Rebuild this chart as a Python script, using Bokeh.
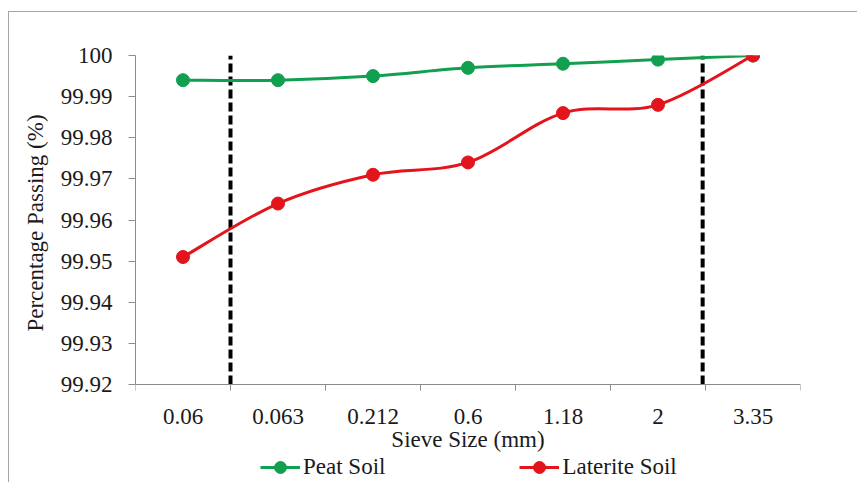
from bokeh.plotting import figure
from bokeh.models import FixedTicker, Range1d, Legend, LegendItem, InlineStyleSheet
from bokeh.embed import file_html
from bokeh.resources import INLINE

# ---- data ----
sieve_sizes = ["0.06", "0.063", "0.212", "0.6", "1.18", "2", "3.35"]
peat_soil = [99.994, 99.994, 99.995, 99.997, 99.998, 99.999, 100.0]
laterite_soil = [99.951, 99.964, 99.971, 99.974, 99.986, 99.988, 100.0]
y_ticks = [99.92, 99.93, 99.94, 99.95, 99.96, 99.97, 99.98, 99.99, 100.0]
y_tick_labels = ["99.92", "99.93", "99.94", "99.95", "99.96", "99.97", "99.98", "99.99", "100"]
dashed_marks = [0.5, 5.47]   # category-index positions of the dashed boundary lines

FONT = "Liberation Serif"
FS = "23px"
GREEN = "#11A04F"
RED = "#E3141B"
AXIS_GRAY = "#8C8C8C"

xs = list(range(len(sieve_sizes)))

# layout: plot area 55..384 px tall, 98 px of space below it for axis texts and legend
PLOT_H = 329
BELOW_H = 98
y_lo, y_hi = y_ticks[0], y_ticks[-1]
y_start = y_lo - (y_hi - y_lo) * BELOW_H / PLOT_H


def smooth(ys):
    n = len(ys)
    d = dict(x0=[], y0=[], x1=[], y1=[], cx0=[], cy0=[], cx1=[], cy1=[])
    for i in range(n - 1):
        pm = max(i - 1, 0)
        pp = min(i + 2, n - 1)
        d["x0"].append(xs[i]); d["y0"].append(ys[i])
        d["x1"].append(xs[i + 1]); d["y1"].append(ys[i + 1])
        d["cx0"].append(xs[i] + (xs[i + 1] - xs[pm]) / 6.0)
        d["cy0"].append(ys[i] + (ys[i + 1] - ys[pm]) / 6.0)
        d["cx1"].append(xs[i + 1] - (xs[pp] - xs[i]) / 6.0)
        d["cy1"].append(ys[i + 1] - (ys[pp] - ys[i]) / 6.0)
    return d


border_css = InlineStyleSheet(css="""
:host::after {
  content: "";
  position: absolute;
  left: 8px; top: 11px; right: 0px; bottom: 0px;
  border-left: 1px solid #A6A6A6;
  border-top: 1px solid #A6A6A6;
  pointer-events: none;
}
""")

p = figure(width=857, height=482, output_backend="svg", toolbar_location=None,
           x_range=Range1d(-0.5, len(sieve_sizes) - 0.5),
           y_range=Range1d(y_start, y_hi),
           min_border_left=135, min_border_right=57, min_border_top=55, min_border_bottom=0,
           stylesheets=[border_css])
p.xgrid.visible = False
p.ygrid.visible = False
p.outline_line_color = None
p.background_fill_color = "white"
p.border_fill_color = "white"

# dashed boundary lines
p.segment(x0=dashed_marks, x1=dashed_marks, y0=[y_lo] * len(dashed_marks),
          y1=[y_hi] * len(dashed_marks), line_color="black", line_width=4,
          line_dash="9 4")

g_line = p.bezier(source=smooth(peat_soil), x0="x0", y0="y0", x1="x1", y1="y1",
                  cx0="cx0", cy0="cy0", cx1="cx1", cy1="cy1", line_color=GREEN, line_width=3)
g_pts = p.scatter(xs, peat_soil, size=13, fill_color=GREEN, line_color=GREEN)
r_line = p.bezier(source=smooth(laterite_soil), x0="x0", y0="y0", x1="x1", y1="y1",
                  cx0="cx0", cy0="cy0", cx1="cx1", cy1="cy1", line_color=RED, line_width=3)
r_pts = p.scatter(xs, laterite_soil, size=13, fill_color=RED, line_color=RED)

# x axis (pinned at the bottom value of the scale)
xa = p.xaxis[0]
xa.fixed_location = y_lo
xa.ticker = FixedTicker(ticks=xs, minor_ticks=[i - 0.5 for i in range(len(sieve_sizes) + 1)])
xa.major_label_overrides = {i: s for i, s in zip(xs, sieve_sizes)}
xa.major_tick_out = 0
xa.major_tick_in = 0
xa.minor_tick_out = 6
xa.minor_tick_in = 0
xa.axis_line_color = AXIS_GRAY
xa.minor_tick_line_color = AXIS_GRAY
xa.major_label_text_font = FONT
xa.major_label_text_font_size = FS
xa.major_label_text_color = "#1a1a1a"
xa.major_label_standoff = 18
xa.axis_label = "Sieve Size (mm)"
xa.axis_label_text_font = FONT
xa.axis_label_text_font_size = FS
xa.axis_label_text_font_style = "normal"
xa.axis_label_text_color = "#1a1a1a"
xa.axis_label_standoff = 0

# y axis (leading no-break spaces keep the title centred on the 99.92-100 span)
ya = p.yaxis[0]
ya.bounds = (y_lo, y_hi)
ya.ticker = FixedTicker(ticks=y_ticks)
ya.major_label_overrides = {t: s for t, s in zip(y_ticks, y_tick_labels)}
ya.major_tick_out = 7
ya.major_tick_in = 0
ya.minor_tick_line_color = None
ya.axis_line_color = AXIS_GRAY
ya.major_tick_line_color = AXIS_GRAY
ya.major_label_text_font = FONT
ya.major_label_text_font_size = FS
ya.major_label_text_color = "#1a1a1a"
ya.major_label_standoff = 16
ya.axis_label = "\u00a0" * 16 + "Percentage Passing (%)"
ya.axis_label_text_font = FONT
ya.axis_label_text_font_size = FS
ya.axis_label_text_font_style = "normal"
ya.axis_label_text_color = "#1a1a1a"
ya.axis_label_standoff = 10

legend = Legend(items=[LegendItem(label="Peat Soil", renderers=[g_line, g_pts]),
                       LegendItem(label="Laterite Soil", renderers=[r_line, r_pts])],
                orientation="horizontal", location=(125, 0), glyph_width=40, glyph_height=30,
                label_height=20, label_standoff=3, spacing=134, padding=0, margin=0,
                border_line_color=None, background_fill_alpha=0,
                label_text_font=FONT, label_text_font_size=FS, label_text_color="#1a1a1a")
p.add_layout(legend, "center")

open("out.html", "w").write(file_html(p, INLINE))
